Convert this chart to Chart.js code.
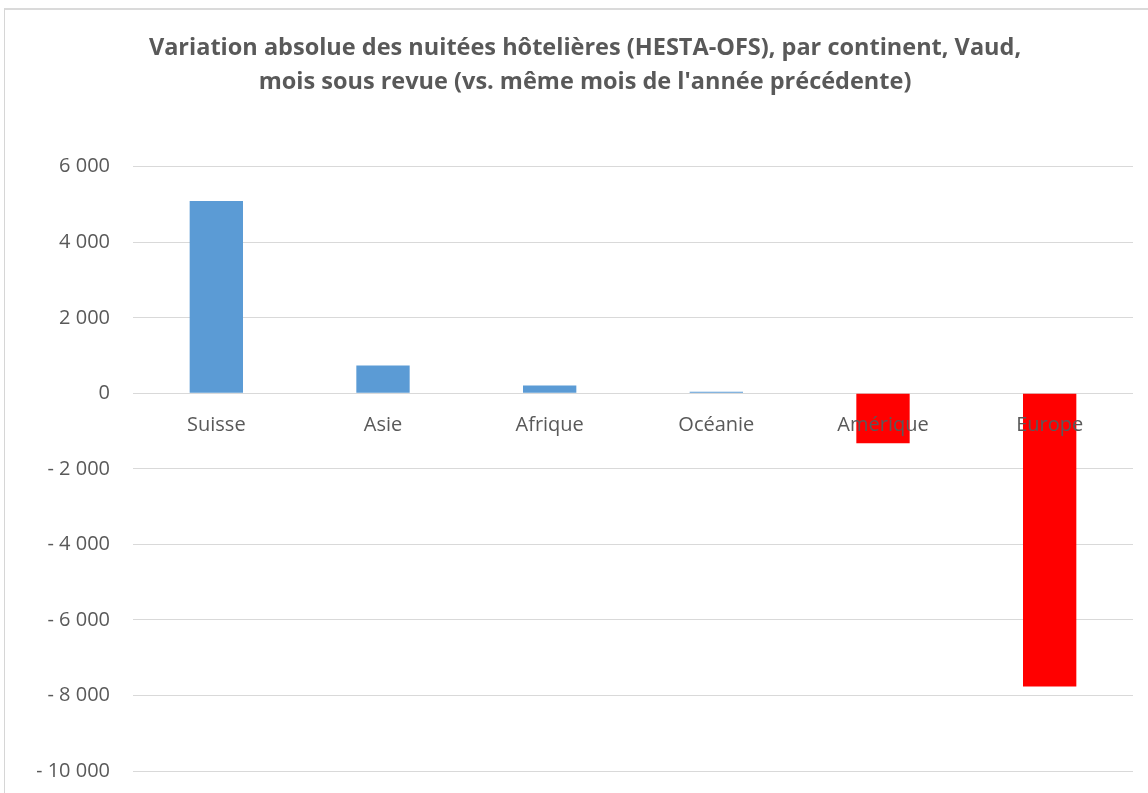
<!DOCTYPE html>
<html>
<head>
<meta charset="utf-8">
<script src="https://cdn.jsdelivr.net/npm/chart.js@4.4.1/dist/chart.umd.min.js"></script>
<style>
  html, body { margin: 0; padding: 0; background: #fff; overflow: hidden; }
  #frame { position: absolute; left: 4px; top: 8px; width: 1160px; height: 800px;
           border-top: 2px solid #dadada; border-left: 1px solid #d6d6d6; }
  #wrap { position: absolute; left: 0; top: 0; width: 1148px; height: 806px; }
</style>
</head>
<body>
<div id="frame"></div>
<div id="wrap"><canvas id="chart"></canvas></div>
<script>
const categories = ['Suisse', 'Asie', 'Afrique', 'Océanie', 'Amérique', 'Europe'];
const variation = [5090, 740, 210, 45, -1320, -7760];
const yTicks = [6000, 4000, 2000, 0, -2000, -4000, -6000, -8000, -10000];
const titleLines = [
  "Variation absolue des nuitées hôtelières (HESTA-OFS), par continent, Vaud,",
  "mois sous revue (vs. même mois de l'année précédente)"
];

const txtColor = '#595959';
const fontFamily = '"Open Sans", "Noto Sans", sans-serif';

function fmt(v) {
  const s = String(Math.abs(v)).replace(/\B(?=(\d{3})+(?!\d))/g, ' ');
  return v < 0 ? '- ' + s : s;
}

const dataVar = {
  labels: categories,
  datasets: [{
    label: 'Variation',
    data: variation,
    backgroundColor: variation.map(v => v < 0 ? '#ff0000' : '#5b9bd5'),
    borderWidth: 0,
    barPercentage: 0.32,
    categoryPercentage: 1
  }]
};

const configVar = {
  type: 'bar',
  data: dataVar,
  options: {
    responsive: true,
    maintainAspectRatio: false,
    animation: false,
    layout: { padding: { left: 37, right: 15, top: 0, bottom: 11 } },
    plugins: {
      legend: { display: false },
      tooltip: { enabled: false },
      title: {
        display: true,
        text: titleLines,
        color: txtColor,
        font: { family: fontFamily, size: 23.5, weight: 'bold', lineHeight: 1.42 },
        padding: { top: 32, bottom: 68 }
      }
    },
    scales: {
      x: {
        position: { y: 0 },
        grid: { display: false, drawTicks: false },
        border: { display: false },
        ticks: {
          z: 1,
          color: txtColor,
          padding: 20,
          font: { family: fontFamily, size: 20 }
        }
      },
      y: {
        min: -10000,
        max: 6000,
        afterFit: (s) => { s.width = 96; },
        afterBuildTicks: (s) => { s.ticks = yTicks.map(v => ({ value: v })); },
        grid: { color: '#d9d9d9', lineWidth: 1, drawTicks: false },
        border: { display: false },
        ticks: {
          color: txtColor,
          padding: 23,
          font: { family: fontFamily, size: 20 },
          callback: (v) => fmt(v)
        }
      }
    }
  }
};

new Chart(document.getElementById('chart'), configVar);
</script>
</body>
</html>
